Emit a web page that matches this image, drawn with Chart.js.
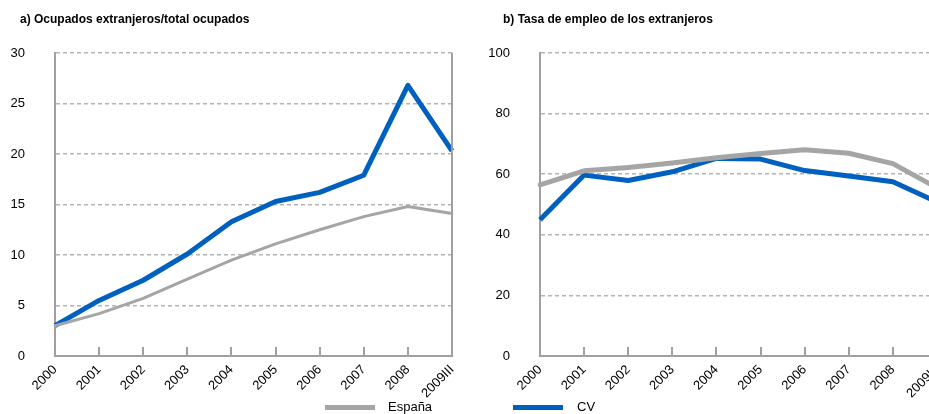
<!DOCTYPE html>
<html>
<head>
<meta charset="utf-8">
<script src="https://cdn.jsdelivr.net/npm/chart.js@4/dist/chart.umd.min.js"></script>
<style>
  html, body { margin: 0; padding: 0; background: #fff; overflow: hidden; width: 929px; height: 414px; }
  #chartA { position: absolute; left: 0; top: 0; }
  #chartB { position: absolute; left: 470px; top: 0; }
  .title { position: absolute; top: 12px; font: bold 12px/14px "Liberation Sans", Arial, sans-serif; color: #000; white-space: nowrap; }
  .leg { position: absolute; font: 13px "Liberation Sans", Arial, sans-serif; color: #000; }
  .legLine { position: absolute; height: 5px; width: 50px; }
</style>
</head>
<body>
<canvas id="chartA" width="470" height="414"></canvas>
<canvas id="chartB" width="480" height="414"></canvas>
<div class="title" style="left:20px;">a) Ocupados extranjeros/total ocupados</div>
<div class="title" style="left:503px;">b) Tasa de empleo de los extranjeros</div>
<div class="legLine" style="left:325px; top:405px; background:#a5a5a5;"></div>
<div class="leg" style="left:388px; top:399px;">España</div>
<div class="legLine" style="left:513px; top:405px; background:#0060c0;"></div>
<div class="leg" style="left:577px; top:399px;">CV</div>
<script>
const years = ['2000', '2001', '2002', '2003', '2004', '2005', '2006', '2007', '2008', '2009III'];

// a) Ocupados extranjeros / total ocupados (%)
const ocupEspana = [3.0, 4.2, 5.7, 7.6, 9.5, 11.1, 12.5, 13.8, 14.8, 14.1];
const ocupCV = [3.0, 5.5, 7.5, 10.1, 13.3, 15.3, 16.2, 17.9, 26.8, 20.3];

// b) Tasa de empleo de los extranjeros (%)
const tasaEspana = [56.5, 61.1, 62.2, 63.7, 65.4, 66.8, 68.1, 66.9, 63.5, 55.5];
const tasaCV = [45.0, 59.7, 57.9, 60.8, 65.2, 65.0, 61.2, 59.4, 57.5, 50.8];

const grayCol = '#a5a5a5';
const blueCol = '#0060c0';
const fontFam = '"Liberation Sans", Arial, sans-serif';

// plain right border of the plot area
const frameBorder = {
    id: 'frameBorder',
    afterDraw(chart) {
        const a = chart.chartArea;
        const c = chart.ctx;
        c.save();
        c.strokeStyle = '#a0a0a0';
        c.lineWidth = 2;
        c.beginPath();
        c.moveTo(a.right, a.top);
        c.lineTo(a.right, a.bottom);
        c.stroke();
        c.restore();
    }
};

function makeChart(id, padRight, yWidth, yMax, yStep, espData, cvData, espWidth) {
    return new Chart(document.getElementById(id), {
        type: 'line',
        data: {
            labels: years,
            datasets: [
                { label: 'España', data: espData, borderColor: grayCol, borderWidth: espWidth,
                  pointRadius: 0, tension: 0, borderJoinStyle: 'round', borderCapStyle: 'round' },
                { label: 'CV', data: cvData, borderColor: blueCol, borderWidth: 5,
                  pointRadius: 0, tension: 0, borderJoinStyle: 'round', borderCapStyle: 'butt' }
            ]
        },
        options: {
            responsive: false,
            animation: false,
            layout: { padding: { left: 0, right: padRight, top: 53, bottom: 0 } },
            plugins: {
                legend: { display: false },
                tooltip: { enabled: false },
                title: { display: false }
            },
            scales: {
                x: {
                    offset: false,
                    grid: { display: true, drawOnChartArea: false, drawTicks: true, tickLength: -9,
                            color: '#a0a0a0', lineWidth: 2 },
                    border: { display: true, color: '#a0a0a0', width: 2 },
                    ticks: { autoSkip: false, minRotation: 45, maxRotation: 45, padding: 15,
                             color: '#000', font: { family: fontFam, size: 13 } },
                    afterFit(scale) {
                        scale.height = 58;
                        scale.paddingLeft = 0;
                        scale.paddingRight = 0;
                    }
                },
                y: {
                    min: 0, max: yMax,
                    ticks: { stepSize: yStep, padding: 30, color: '#000', font: { family: fontFam, size: 13 } },
                    grid: {
                        drawTicks: false, lineWidth: 1.5,
                        color: ctx => ctx.tick && ctx.tick.value === 0 ? 'rgba(0,0,0,0)' : '#b4b4b4'
                    },
                    border: { display: true, color: '#a0a0a0', width: 2, dash: [4, 3] },
                    afterFit(scale) { scale.width = yWidth; }
                }
            }
        },
        plugins: [frameBorder]
    });
}

makeChart('chartA', 18, 55, 30, 5, ocupEspana, ocupCV, 3);
makeChart('chartB', 13, 70, 100, 20, tasaEspana, tasaCV, 5);
</script>
</body>
</html>
